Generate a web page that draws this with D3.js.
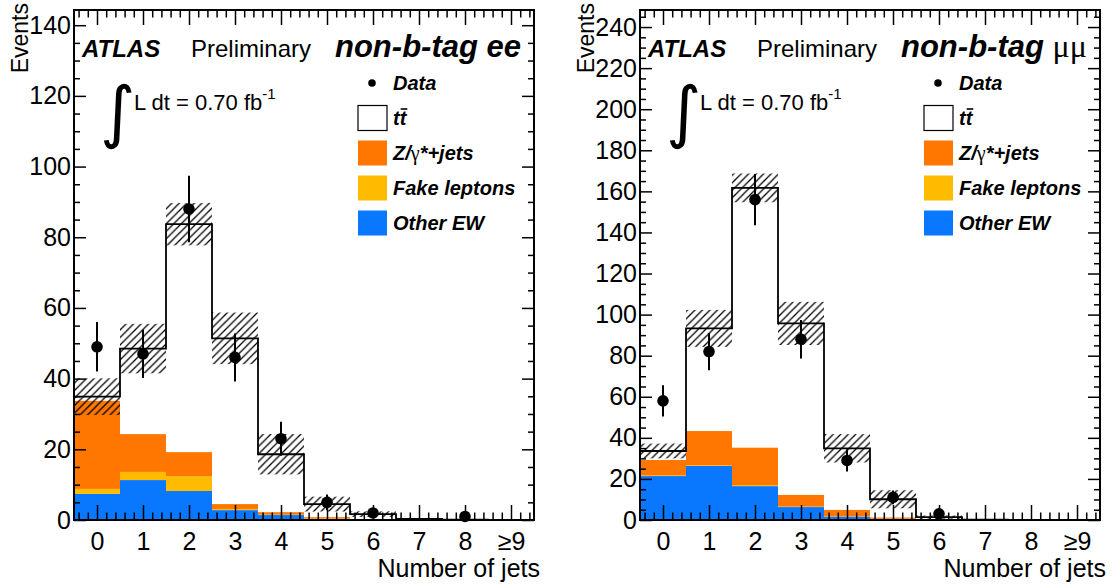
<!DOCTYPE html>
<html><head><meta charset="utf-8">
<script src="https://cdn.jsdelivr.net/npm/d3@7"></script>
<style>body{margin:0;background:#fff}</style>
</head><body>
<svg id="c" width="1114" height="585"></svg>
<script>
// ---- data ----
const binLabels = ["0","1","2","3","4","5","6","7","8","≥9"];
const binIndex = [0,1,2,3,4,5,6,7,8,9];

// ee channel
const eeOtherEW = [7.4, 11.3, 8.2, 2.8, 1.4, 0.3, 0.05, 0, 0, 0];
const eeFake    = [1.4, 2.3, 4.2, 0.3, 0.1, 0.1, 0, 0, 0, 0];
const eeZjets   = [24.9, 10.7, 6.8, 1.4, 0.7, 0.4, 0.1, 0, 0, 0];
const eeTtbar   = [1.2, 24.2, 64.5, 46.9, 16.4, 3.7, 1.5, 0.3, 0.08, 0.03];
const eeData    = [49, 47, 88, 46, 23, 5, 2, 0, 1, 0];
const eeUnc     = [5.2, 7, 6, 7.3, 5.7, 2.1, 0.8, 0.2, 0.05, 0.02];

// mumu channel
const mmOtherEW = [21.4, 26.3, 16.5, 6.3, 1.6, 0.6, 0.1, 0, 0, 0];
const mmFake    = [0.3, 0.3, 0.5, 0.2, 0.1, 0, 0, 0, 0, 0];
const mmZjets   = [7.5, 16.7, 18.2, 5.7, 3.2, 0.6, 0.1, 0, 0, 0];
const mmTtbar   = [4.4, 50, 126.5, 83.5, 30, 8.9, 1.2, 0.2, 0.05, 0.02];
const mmData    = [58, 82, 156, 88, 29, 11, 3, 0, 0, 0];
const mmUnc     = [3.6, 9, 7, 10.5, 6.9, 4.4, 0.8, 0.2, 0.05, 0.02];

const legendLabels = ["Data", "tt", "Z/γ*+jets", "Fake leptons", "Other EW"];
const colEW = "#0a77ff", colFake = "#ffbb00", colZ = "#ff7700";

// ---- drawing ----
const svg = d3.select("#c");
const SANS = "'Liberation Sans', Arial, Helvetica, sans-serif";
const SERIF = "'Liberation Serif', 'Times New Roman', serif";

const hs = 7.5;
const defs = svg.append("defs");
defs.append("pattern").attr("id","hatch").attr("patternUnits","userSpaceOnUse")
  .attr("width",hs).attr("height",hs)
  .append("path").attr("d",`M0,${hs} L${hs},0 M${-hs/2},${hs/2} L${hs/2},${-hs/2} M${hs/2},${hs*1.5} L${hs*1.5},${hs/2}`)
  .attr("stroke","#000").attr("stroke-width",1.3).attr("fill","none");

const panels = [
  {left:74, right:534, top:10, bottom:520, ymax:144.3,
   ew:eeOtherEW, fake:eeFake, z:eeZjets, tt:eeTtbar, data:eeData, unc:eeUnc, chan:"ee"},
  {left:640, right:1100, top:10, bottom:520, ymax:248.3,
   ew:mmOtherEW, fake:mmFake, z:mmZjets, tt:mmTtbar, data:mmData, unc:mmUnc, chan:"μμ"}
];

panels.forEach(p => {
  const g = svg.append("g");
  const x = d3.scaleLinear().domain([-0.5, 9.5]).range([p.left, p.right]);
  const y = d3.scaleLinear().domain([0, p.ymax]).range([p.bottom, p.top]);

  const rows = binIndex.map(i => ({i, ew:p.ew[i], fake:p.fake[i], z:p.z[i], tt:p.tt[i]}));
  const stack = d3.stack().keys(["ew","fake","z","tt"])(rows);
  const fills = {ew:colEW, fake:colFake, z:colZ, tt:"none"};
  stack.forEach(layer => {
    if (fills[layer.key] === "none") return;
    g.append("g").selectAll("rect").data(layer).join("rect")
      .attr("x", d => x(d.data.i - 0.5))
      .attr("width", d => x(d.data.i + 0.5) - x(d.data.i - 0.5))
      .attr("y", d => y(d[1]))
      .attr("height", d => Math.max(0, y(d[0]) - y(d[1])))
      .attr("fill", fills[layer.key]);
  });
  const totals = stack[stack.length-1].map(d => d[1]);

  // uncertainty band
  g.append("g").selectAll("rect").data(binIndex).join("rect")
    .attr("x", i => x(i - 0.5))
    .attr("width", i => x(i + 0.5) - x(i - 0.5))
    .attr("y", i => y(totals[i] + p.unc[i]))
    .attr("height", i => y(Math.max(0, totals[i] - p.unc[i])) - y(totals[i] + p.unc[i]))
    .attr("fill", "url(#hatch)");

  // total outline
  const pts = [[-0.5, 0]];
  binIndex.forEach(i => { pts.push([i - 0.5, totals[i]]); pts.push([i + 0.5, totals[i]]); });
  pts.push([9.5, 0]);
  g.append("path").attr("d", d3.line().x(d => x(d[0])).y(d => y(d[1]))(pts))
    .attr("fill","none").attr("stroke","#000").attr("stroke-width",1.8);

  // data
  const dpts = binIndex.filter(i => p.data[i] > 0);
  g.append("g").selectAll("line").data(dpts).join("line")
    .attr("x1", i => x(i)).attr("x2", i => x(i))
    .attr("y1", i => y(p.data[i] + Math.sqrt(p.data[i])))
    .attr("y2", i => y(p.data[i] - Math.sqrt(p.data[i])))
    .attr("stroke","#000").attr("stroke-width",2);
  g.append("g").selectAll("circle").data(dpts).join("circle")
    .attr("cx", i => x(i)).attr("cy", i => y(p.data[i])).attr("r", 5.8).attr("fill","#000");

  // axes
  const yMajor = d3.range(0, p.ymax, 20);
  const yMinor = d3.range(0, p.ymax, 5).filter(v => v % 20 !== 0);
  const xMinor = d3.range(-0.4, 9.5, 0.2).map(v => +v.toFixed(2)).filter(v => Math.abs(v - Math.round(v)) > 0.01);

  const styleAxis = sel => {
    sel.select(".domain").remove();
    sel.selectAll(".tick line").attr("stroke","#000").attr("stroke-width",1.5);
    sel.selectAll("text").attr("font-family", SANS).attr("font-size", 25).attr("fill","#000");
  };
  g.append("g").attr("transform",`translate(${p.left},0)`)
    .call(d3.axisLeft(y).tickValues(yMajor).tickSize(-12).tickPadding(3).tickFormat(d3.format("d"))).call(styleAxis);
  g.append("g").attr("transform",`translate(${p.left},0)`)
    .call(d3.axisLeft(y).tickValues(yMinor).tickSize(-6).tickFormat("")).call(styleAxis);
  g.append("g").attr("transform",`translate(${p.right},0)`)
    .call(d3.axisRight(y).tickValues(yMajor).tickSize(-12).tickFormat("")).call(styleAxis);
  g.append("g").attr("transform",`translate(${p.right},0)`)
    .call(d3.axisRight(y).tickValues(yMinor).tickSize(-6).tickFormat("")).call(styleAxis);

  g.append("g").attr("transform",`translate(0,${p.bottom})`)
    .call(d3.axisBottom(x).tickValues(binIndex).tickSize(-15).tickPadding(12).tickFormat(i => binLabels[i])).call(styleAxis);
  g.append("g").attr("transform",`translate(0,${p.bottom})`)
    .call(d3.axisBottom(x).tickValues(xMinor).tickSize(-7.5).tickFormat("")).call(styleAxis);
  g.append("g").attr("transform",`translate(0,${p.top})`)
    .call(d3.axisTop(x).tickValues(binIndex).tickSize(-15).tickFormat("")).call(styleAxis);
  g.append("g").attr("transform",`translate(0,${p.top})`)
    .call(d3.axisTop(x).tickValues(xMinor).tickSize(-7.5).tickFormat("")).call(styleAxis);

  g.append("rect").attr("x",p.left).attr("y",p.top).attr("width",p.right-p.left).attr("height",p.bottom-p.top)
    .attr("fill","none").attr("stroke","#000").attr("stroke-width",2);

  // axis titles
  g.append("text").attr("transform",`translate(${p.left-46},3) rotate(-90)`)
    .attr("text-anchor","end").attr("font-family",SANS).attr("font-size",23).text("Events");
  g.append("text").attr("x",p.right+6).attr("y",577).attr("text-anchor","end")
    .attr("font-family",SANS).attr("font-size",25).text("Number of jets");

  // header
  const L = p.left;
  g.append("text").attr("x",L+8).attr("y",57).attr("font-family",SANS).attr("font-size",24)
    .attr("font-weight","bold").attr("font-style","italic").text("ATLAS");
  g.append("text").attr("x",L+117).attr("y",57).attr("font-family",SANS).attr("font-size",24).text("Preliminary");
  const ch = g.append("text").attr("x",L+261).attr("y",57).attr("font-family",SANS).attr("font-size",31);
  if (p.chan === "ee") {
    ch.attr("font-weight","bold").attr("font-style","italic").text("non-b-tag ee");
  } else {
    ch.append("tspan").attr("font-weight","bold").attr("font-style","italic").text("non-b-tag ");
    ch.append("tspan").attr("font-family",SERIF).attr("font-size",32).text(p.chan);
  }

  // luminosity
  g.append("text").attr("x",L+26).attr("y",135).attr("font-family","'DejaVu Sans', sans-serif")
    .attr("font-size",68).text("∫");
  const lt = g.append("text").attr("x",L+60).attr("y",110).attr("font-family",SANS).attr("font-size",22);
  lt.append("tspan").text("L dt = 0.70 fb");
  lt.append("tspan").attr("font-size",15).attr("dy",-11).text("-1");

  // legend
  const bx = L + 284, tx = L + 319, rowY = [83, 118, 153, 188, 223];
  const legFill = [null, "#fff", colZ, colFake, colEW];
  legendLabels.forEach((lab, k) => {
    const cy = rowY[k];
    if (k === 0) {
      g.append("circle").attr("cx", bx + 14).attr("cy", cy).attr("r", 3.8).attr("fill","#000");
    } else {
      g.append("rect").attr("x", bx).attr("y", cy - 12.5).attr("width", 29).attr("height", 25)
        .attr("fill", legFill[k]).attr("stroke", k === 1 ? "#000" : "none").attr("stroke-width", 1.2);
    }
    const t = g.append("text").attr("x", tx).attr("y", cy + 7).attr("font-family", SANS)
      .attr("font-size", 20).attr("font-weight","bold").attr("font-style","italic");
    if (k === 2) {
      t.append("tspan").text("Z/");
      t.append("tspan").attr("font-family",SERIF).attr("font-weight","normal").attr("font-style","normal").text("γ");
      t.append("tspan").text("*+jets");
    } else if (k === 1) {
      t.text(lab);
      const len = t.node().getComputedTextLength();
      const half = len / 2;
      g.append("line").attr("x1", tx + half + 1).attr("x2", tx + len + 1)
        .attr("y1", cy - 9).attr("y2", cy - 9).attr("stroke","#000").attr("stroke-width",1.6);
    } else {
      t.text(lab);
    }
  });
});
</script>
</body></html>
